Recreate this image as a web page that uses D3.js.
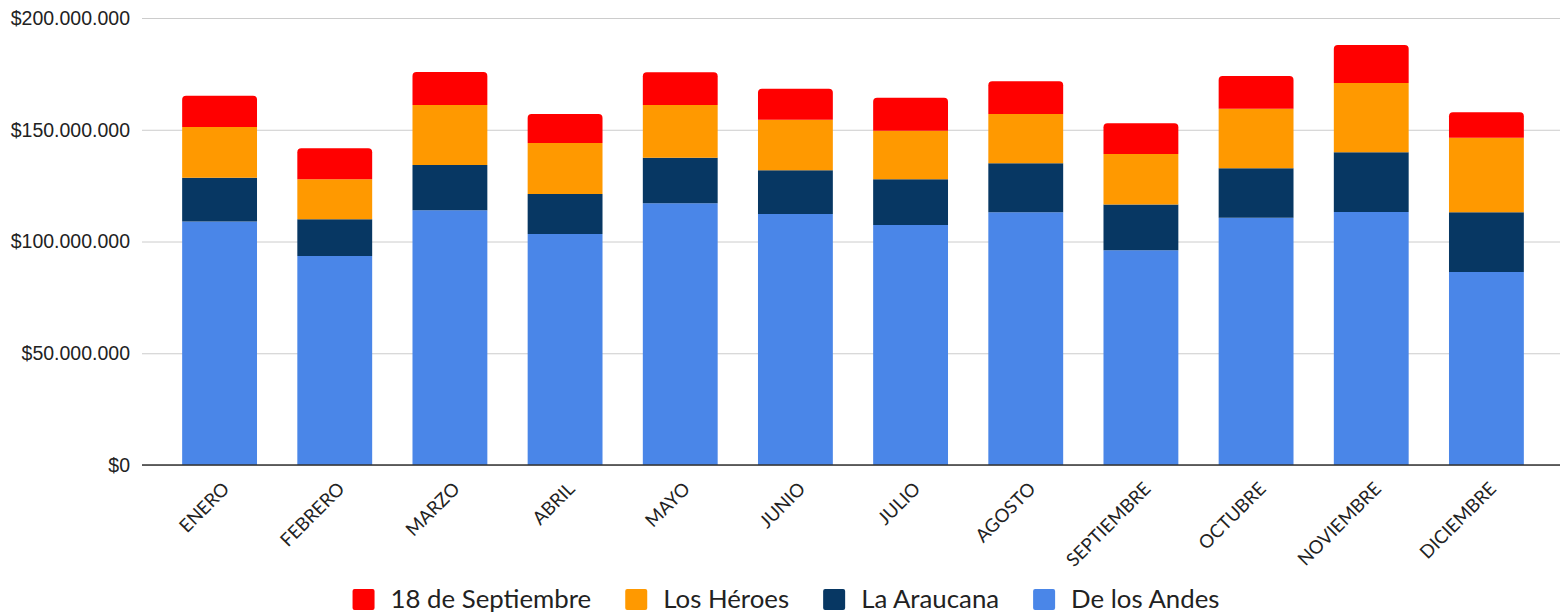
<!DOCTYPE html>
<html lang="es">
  <head>
    <meta charset="UTF-8" />
    <title>Montos por caja</title>
    <script src="https://cdn.jsdelivr.net/npm/d3@7"></script>
    <style>
      body { margin: 0; background: #fff; }
      svg { display: block; font-family: Lato, "Open Sans", sans-serif; }
    </style>
  </head>
  <body>
    <div id="chart"></div>
    <script>
      const width = 1560;
      const height = 614;

      // datos (millones de pesos)
      const meses = ["ENERO", "FEBRERO", "MARZO", "ABRIL", "MAYO", "JUNIO",
        "JULIO", "AGOSTO", "SEPTIEMBRE", "OCTUBRE", "NOVIEMBRE", "DICIEMBRE"];
      const deLosAndes = [109.0, 93.5, 114.0, 103.4, 117.1, 112.3, 107.4, 113.1, 96.1, 110.6, 113.2, 86.4];
      const laAraucana = [19.5, 16.4, 20.2, 17.9, 20.4, 19.6, 20.4, 21.9, 20.4, 22.2, 26.7, 26.7];
      const losHeroes = [22.7, 17.9, 26.9, 22.8, 23.6, 22.6, 21.8, 22.0, 22.6, 26.6, 31.0, 33.3];
      const septiembre18 = [14.0, 13.9, 14.7, 12.9, 14.6, 13.9, 14.7, 14.7, 13.8, 14.6, 17.0, 11.4];
      const yTicks = [0, 50, 100, 150, 200];

      const series = [
        { name: "De los Andes", values: deLosAndes, color: "#4a86e8" },
        { name: "La Araucana", values: laAraucana, color: "#073763" },
        { name: "Los Héroes", values: losHeroes, color: "#ff9900" },
        { name: "18 de Septiembre", values: septiembre18, color: "#ff0000" }
      ];
      const legendOrder = [3, 2, 1, 0];

      const rows = meses.map((m, i) => {
        const r = { mes: m };
        series.forEach(s => (r[s.name] = s.values[i]));
        return r;
      });
      const stacked = d3.stack().keys(series.map(s => s.name))(rows);

      const svg = d3.select("#chart").append("svg")
        .attr("width", width)
        .attr("height", height);

      const x = d3.scaleBand().domain(meses).range([162, 1544])
        .paddingInner(0.35).paddingOuter(0.175);
      const y = d3.scaleLinear().domain([0, 200]).range([465, 18]);

      const fmt = v => "$" + d3.format(",")(v * 1e6).replace(/,/g, ".");

      // grilla y etiquetas del eje y
      const yAxis = svg.append("g").attr("transform", "translate(142,0)")
        .call(d3.axisLeft(y).tickValues(yTicks).tickFormat(fmt)
          .tickSize(-1418).tickPadding(12));
      yAxis.select(".domain").remove();
      yAxis.selectAll(".tick line").attr("stroke", "#cccccc");
      yAxis.selectAll(".tick text").attr("fill", "#222").attr("font-size", 19.5);

      // barras apiladas
      const topRound = (x0, y0, w, h, r) => {
        r = Math.min(r, h);
        return `M${x0},${y0 + h}V${y0 + r}Q${x0},${y0} ${x0 + r},${y0}` +
          `H${x0 + w - r}Q${x0 + w},${y0} ${x0 + w},${y0 + r}V${y0 + h}Z`;
      };
      stacked.forEach((layer, li) => {
        const isTop = li === stacked.length - 1;
        svg.append("g").attr("fill", series[li].color)
          .selectAll("path").data(layer).join("path")
          .attr("d", (d, i) => {
            const x0 = x(meses[i]);
            const y0 = y(d[1]);
            const h = y(d[0]) - y(d[1]);
            return topRound(x0, y0, x.bandwidth(), h, isTop ? 4 : 0);
          });
      });

      // eje x
      svg.append("line")
        .attr("x1", 142).attr("x2", 1560)
        .attr("y1", y(0)).attr("y2", y(0))
        .attr("stroke", "#333").attr("stroke-width", 1.5);

      svg.append("g").selectAll("text").data(meses).join("text")
        .attr("transform", d => `translate(${x(d) + x.bandwidth() / 2 + 11},490) rotate(-45)`)
        .attr("text-anchor", "end")
        .attr("font-size", 18.5)
        .attr("fill", "#222")
        .text(d => d);

      // leyenda
      const legend = svg.append("g");
      let cx = 0;
      legendOrder.forEach(k => {
        const s = series[k];
        const g = legend.append("g").attr("transform", `translate(${cx},0)`);
        g.append("rect").attr("x", 0).attr("y", 589).attr("width", 22).attr("height", 21)
          .attr("rx", 2).attr("fill", s.color);
        const t = g.append("text").attr("x", 38).attr("y", 608)
          .attr("font-size", 25.8).attr("fill", "#222").text(s.name);
        cx += 38 + t.node().getComputedTextLength() + 34;
      });
      const lw = cx - 34;
      legend.attr("transform", `translate(${786 - lw / 2},0)`);
    </script>
  </body>
</html>
